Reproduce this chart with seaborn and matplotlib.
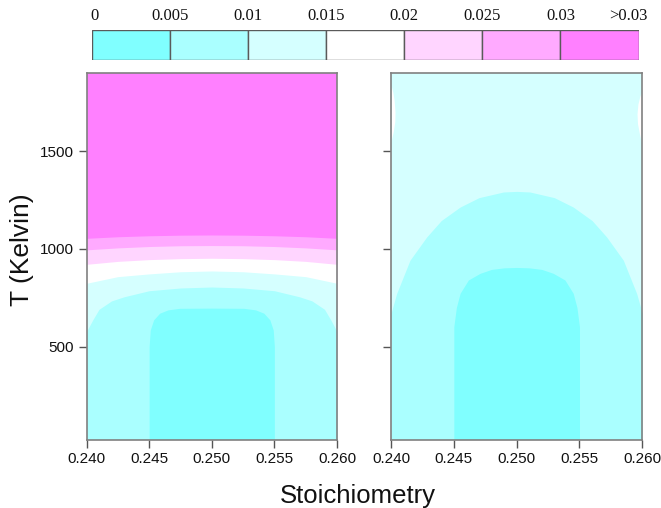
import matplotlib
matplotlib.use("Agg")
import matplotlib.pyplot as plt
import seaborn as sns
import numpy as np
import pandas as pd

# ---------------- data ----------------
level_labels = ["0", "0.005", "0.01", "0.015", "0.02", "0.025", "0.03", ">0.03"]
band_colors = ["#80FFFF", "#AAFFFF", "#D5FFFF", "#FFFFFF", "#FFD5FF", "#FFAAFF", "#FF80FF"]

x_ticks = [0.240, 0.245, 0.250, 0.255, 0.260]
x_tick_labels = ["0.240", "0.245", "0.250", "0.255", "0.260"]
t_ticks = [500, 1000, 1500]
x_range = (0.240, 0.260)
t_range = (25, 1898)

# Left panel: upper boundary (T, Kelvin) of each band
left_b0_x = [0.2450, 0.24509, 0.24536, 0.24584, 0.2465, 0.24744, 0.2500,
             0.25256, 0.2535, 0.25416, 0.25464, 0.25491, 0.2550]
left_b0_t = [500, 585, 637, 671, 688, 696, 697, 696, 688, 671, 637, 585, 500]

left_b1_x = [0.2400, 0.2405, 0.2410, 0.2420, 0.2430, 0.2450, 0.2475, 0.2500,
             0.2525, 0.2550, 0.2570, 0.2580, 0.2590, 0.2595, 0.2600]
left_b1_t = [577, 637, 691, 734, 755, 786, 800, 805, 800, 786, 755, 734, 691, 637, 577]

left_arc_x = [0.2400, 0.2425, 0.2450, 0.2475, 0.2500, 0.2525, 0.2550, 0.2575, 0.2600]
left_b2_t = [824, 858, 872, 883, 887, 883, 872, 858, 824]
left_b3_t = [921, 936, 945, 950, 952, 950, 945, 936, 921]
left_b4_t = [995, 1005, 1012, 1016, 1017, 1016, 1012, 1005, 995]
left_b5_t = [1054, 1062, 1067, 1070, 1071, 1070, 1067, 1062, 1054]

# Right panel
right_b0_x = [0.2450, 0.2452, 0.2455, 0.24616, 0.24709, 0.2480, 0.2490, 0.2500,
              0.2510, 0.2520, 0.25291, 0.25384, 0.2545, 0.2548, 0.2550]
right_b0_t = [602, 700, 773, 841, 875, 895, 903, 905, 903, 895, 875, 841, 773, 700, 602]

right_b1_x = [0.2400, 0.24045, 0.24151, 0.24284, 0.2440, 0.2455, 0.2470, 0.24895, 0.2500,
              0.25105, 0.2530, 0.2545, 0.2560, 0.25716, 0.25849, 0.25955, 0.2600]
right_b1_t = [670, 772, 942, 1061, 1145, 1214, 1262, 1291, 1294,
              1291, 1262, 1214, 1145, 1061, 942, 772, 670]

# small 0.015-0.02 slivers at the panel edges (right panel)
sliver_left_t = [1549, 1600, 1650, 1700, 1760, 1800, 1839]
sliver_left_x = [0.2400, 0.24018, 0.24030, 0.24032, 0.24025, 0.24015, 0.2400]
sliver_right_t = [1523, 1580, 1640, 1690, 1740, 1780, 1813]
sliver_right_x = [0.2600, 0.25980, 0.25962, 0.25958, 0.25965, 0.25980, 0.2600]

# ---------------- styling ----------------
sns.set_theme(style="ticks")
plt.rcParams["font.family"] = ["Liberation Sans", "DejaVu Sans"]

frame_col = "#808080"
W, H = 661, 508
fig = plt.figure(figsize=(W / 100, H / 100), dpi=100)


def px_axes(x0, y0, x1, y1):
    return fig.add_axes([x0 / W, 1 - y1 / H, (x1 - x0) / W, (y1 - y0) / H])


def style_panel(ax, labels=True):
    ax.set_xlim(*x_range)
    ax.set_ylim(*t_range)
    for s in ax.spines.values():
        s.set_color(frame_col)
        s.set_linewidth(1.2)
        s.set_zorder(10)
    ax.set_xticks(x_ticks)
    ax.set_xticklabels(x_tick_labels)
    ax.set_yticks(t_ticks)
    if not labels:
        ax.set_yticklabels([])
    ax.tick_params(axis="both", direction="out", length=6, width=1,
                   color="#555555", labelsize=11, labelcolor="#111111", pad=3)
    ax.tick_params(top=False, right=False)
    ax.set_xlabel("")
    ax.set_ylabel("")


# left panel
axL = px_axes(86.5, 73.3, 337.0, 439.5)
axL.fill_between(list(x_range), t_range[0], t_range[1], color=band_colors[6], lw=0)
for tt, col in [(left_b5_t, band_colors[5]), (left_b4_t, band_colors[4]),
                (left_b3_t, band_colors[3]), (left_b2_t, band_colors[2])]:
    axL.fill_between(left_arc_x, t_range[0], tt, color=col, lw=0)
axL.fill_between(left_b1_x, t_range[0], left_b1_t, color=band_colors[1], lw=0)
axL.fill_between(left_b0_x, t_range[0], left_b0_t, color=band_colors[0], lw=0)
style_panel(axL, labels=True)

# right panel
axR = px_axes(391.0, 73.3, 642.3, 439.5)
axR.fill_between(list(x_range), t_range[0], t_range[1], color=band_colors[2], lw=0)
axR.fill_betweenx(sliver_left_t, x_range[0], sliver_left_x, color=band_colors[3], lw=0)
axR.fill_betweenx(sliver_right_t, sliver_right_x, x_range[1], color=band_colors[3], lw=0)
axR.fill_between(right_b1_x, t_range[0], right_b1_t, color=band_colors[1], lw=0)
axR.fill_between(right_b0_x, t_range[0], right_b0_t, color=band_colors[0], lw=0)
style_panel(axR, labels=False)

# colour key
axK = px_axes(91.8, 29.6, 638.6, 59.5)
key = pd.DataFrame({"pos": np.arange(len(band_colors)), "h": 1.0})
axK.bar(key["pos"], key["h"], width=1.0, align="edge", color=band_colors,
        edgecolor="#5a5a5a", linewidth=1.0)
axK.set_xlim(0, len(band_colors))
axK.set_ylim(0, 1)
axK.set_axis_off()
label_pos = [0.03, 1, 2, 3, 4, 5, 6, 6.87]
for lp, lab in zip(label_pos, level_labels):
    axK.text(lp, 1.45, lab, ha="center", va="center", fontsize=12,
             family=["Liberation Serif", "DejaVu Serif"], color="#111111",
             transform=axK.transData, clip_on=False)

# axis titles
fig.text(357.5 / W, 1 - 503 / H, "Stoichiometry", ha="center", va="baseline",
         fontsize=18.5, color="#111111")
fig.text(21.7 / W, 1 - 250 / H, "T (Kelvin)", ha="center", va="center",
         rotation=90, fontsize=19, color="#111111")

fig.savefig("out.png", dpi=100)
